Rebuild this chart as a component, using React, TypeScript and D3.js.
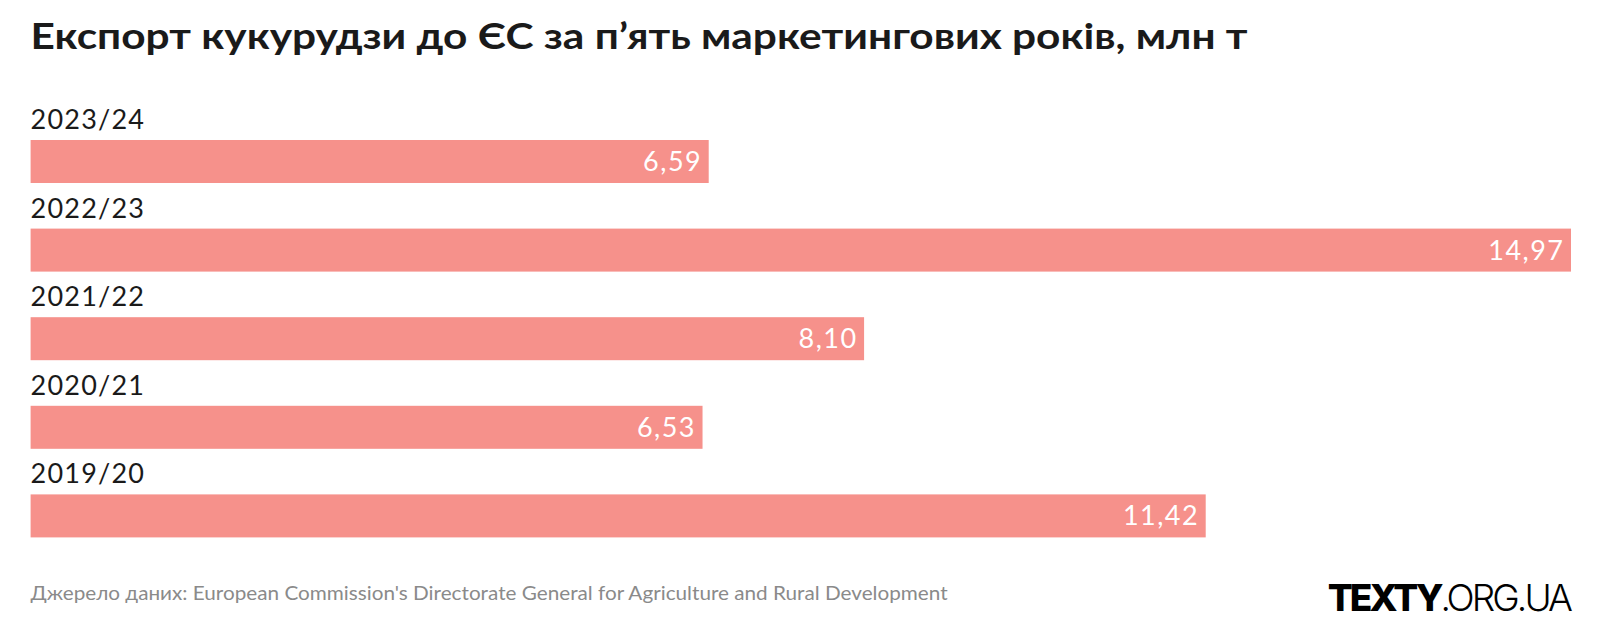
import React from "react";
import * as d3 from "d3";

const years = ["2023/24", "2022/23", "2021/22", "2020/21", "2019/20"];
const values = [6.59, 14.97, 8.1, 6.53, 11.42];
const valueLabels = ["6,59", "14,97", "8,10", "6,53", "11,42"];

const W = 1601;
const H = 638;
const FONT = "Lato, 'Open Sans', sans-serif";

export default function App() {
  const x = d3.scaleLinear().domain([0, 14.97]).range([30.6, 1571]);
  const step = 88.6;
  const bw = 43;
  const pad = (step - bw) / step;
  const y = d3
    .scaleBand<string>()
    .domain(years)
    .range([140, 140 + 4 * step + bw])
    .paddingInner(pad)
    .paddingOuter(0);

  return (
    <svg
      width={W}
      height={H}
      style={{ position: "absolute", left: 0, top: 0, background: "#fff" }}
    >
      <text
        x={30.6}
        y={49}
        fontFamily={FONT}
        fontWeight={700}
        fontSize={37}
        fill="#1a1a1a"
        textLength={1217}
        lengthAdjust="spacingAndGlyphs"
      >
        Експорт кукурудзи до ЄС за п’ять маркетингових років, млн т
      </text>
      {years.map((yr, i) => {
        const top = y(yr)!;
        return (
          <g key={yr}>
            <text
              x={30.6}
              y={top - 11}
              fontFamily={FONT}
              fontSize={27}
              fill="#1a1a1a"
              letterSpacing={1.2}
            >
              {yr}
            </text>
            <rect
              x={x(0)}
              y={top}
              width={x(values[i]) - x(0)}
              height={y.bandwidth()}
              fill="#f6918b"
            />
            <text
              x={x(values[i]) - 6.5}
              y={top + y.bandwidth() / 2 + 9.5}
              textAnchor="end"
              fontFamily={FONT}
              fontSize={27}
              fill="#ffffff"
              letterSpacing={1.5}
            >
              {valueLabels[i]}
            </text>
          </g>
        );
      })}
      <text
        x={30.6}
        y={600}
        fontFamily={FONT}
        fontSize={19}
        fill="#8a8a8a"
        textLength={917}
        lengthAdjust="spacingAndGlyphs"
      >
        Джерело даних: European Commission's Directorate General for Agriculture and Rural Development
      </text>
      <text
        x={1570}
        y={611}
        textAnchor="end"
        fontFamily="Inter, 'Open Sans', sans-serif"
        fontSize={37}
        fill="#000"
        letterSpacing={-2.9}
      >
        <tspan fontWeight={800}>TEXTY</tspan>
        <tspan fontWeight={300}>.ORG.UA</tspan>
      </text>
    </svg>
  );
}
